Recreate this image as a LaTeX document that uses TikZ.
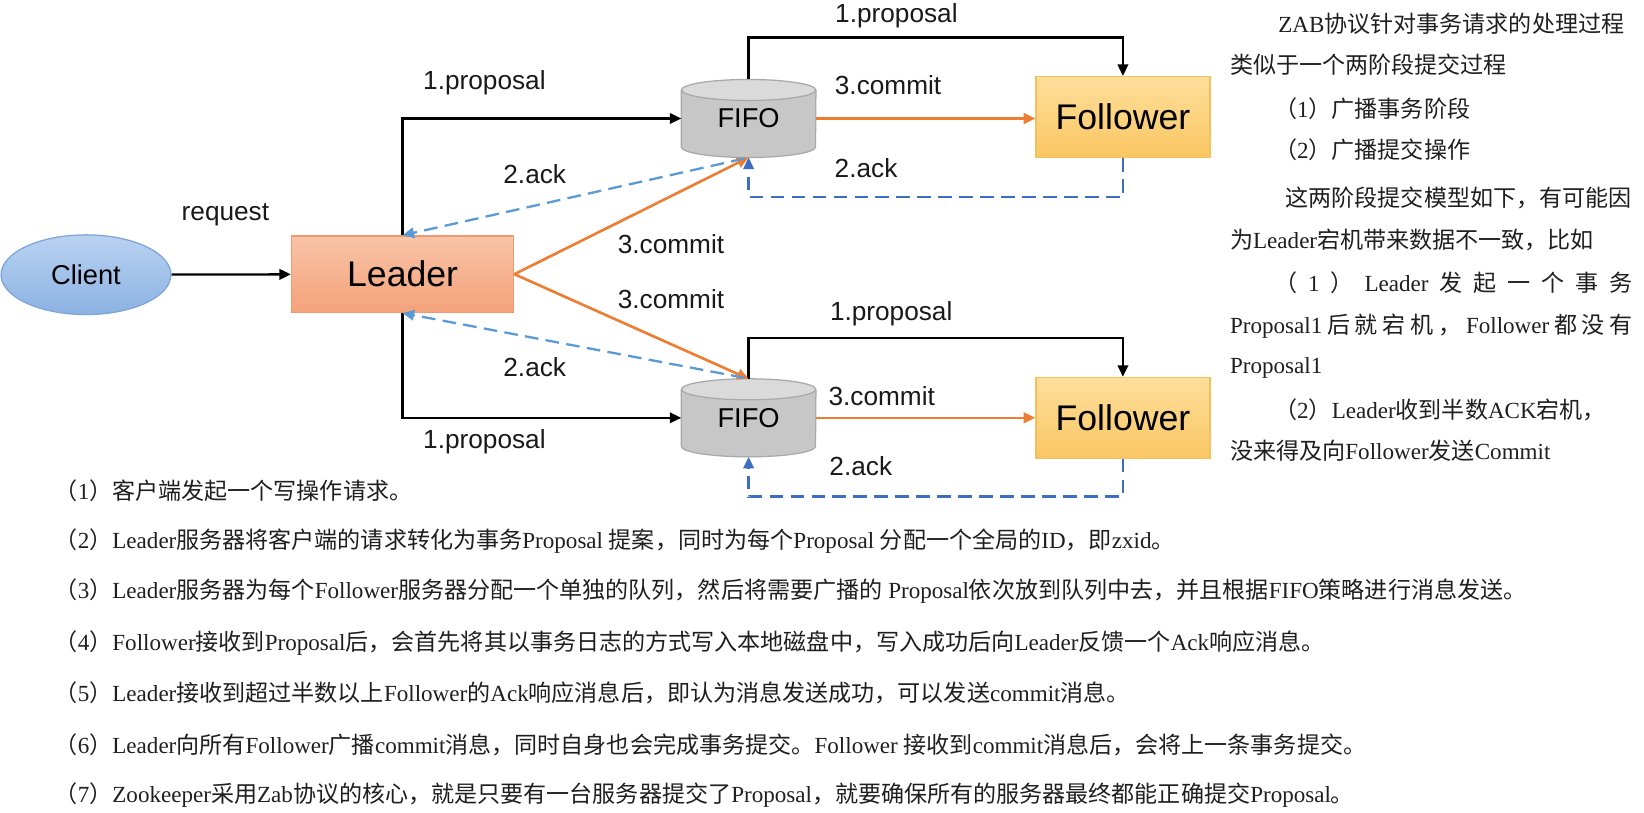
\documentclass[tikz,border=0pt]{standalone}
\usepackage{fontspec}
\setmainfont{Liberation Serif}
\newfontfamily\cjkf{Noto Sans CJK SC}
\newfontfamily\latf{Liberation Serif}
\newfontfamily\arialf{Liberation Sans}
\usetikzlibrary{arrows.meta,calc,shapes.geometric}
% automatic switching between Latin and CJK fonts
\ifdefined\newXeTeXintercharclass
  \newXeTeXintercharclass\CJKcls
\else
  \chardef\CJKcls=9
\fi
\newcount\mycnt
\mycnt="4E00 \loop\XeTeXcharclass\mycnt=\CJKcls\advance\mycnt by 1 \ifnum\mycnt<"A000 \repeat
\mycnt="3000 \loop\XeTeXcharclass\mycnt=\CJKcls\advance\mycnt by 1 \ifnum\mycnt<"3040 \repeat
\mycnt="FF00 \loop\XeTeXcharclass\mycnt=\CJKcls\advance\mycnt by 1 \ifnum\mycnt<"FFF0 \repeat
\XeTeXinterchartoks 0 \CJKcls = {\cjkf}
\XeTeXinterchartoks 4095 \CJKcls = {\cjkf}
\XeTeXinterchartoks \CJKcls 0 = {\latf}
\XeTeXinterchartoks \CJKcls 4095 = {\latf}
\XeTeXinterchartokenstate=1
\definecolor{cliTop}{HTML}{B9D2F1}
\definecolor{cliBot}{HTML}{8CB2E2}
\definecolor{cliBd}{HTML}{7DA5D8}
\definecolor{ldTop}{HTML}{F9C4A8}
\definecolor{ldBot}{HTML}{F4A279}
\definecolor{ldBd}{HTML}{EE9A70}
\definecolor{flTop}{HTML}{FEDF9C}
\definecolor{flBot}{HTML}{FAC662}
\definecolor{flBd}{HTML}{F3C15B}
\definecolor{fifoBody}{HTML}{C7C7C7}
\definecolor{fifoTop}{HTML}{DADADA}
\definecolor{fifoBd}{HTML}{A9A9A9}
\definecolor{orangeC}{HTML}{ED7D31}
\definecolor{lblue}{HTML}{5B9BD5}
\definecolor{dblue}{HTML}{3E6EC2}
\pgfdeclarelayer{bg}
\pgfsetlayers{bg,main}
\begin{document}
\begin{tikzpicture}[x=1pt,y=-1pt,
  tip/.style={-{Triangle[length=11pt,width=10pt]}},
  blk/.style={line width=2.2pt,draw=black,tip},
  org/.style={line width=2.5pt,draw=orangeC,tip},
  ackl/.style={line width=2.2pt,draw=lblue,dash pattern=on 13pt off 7pt,tip},
  ackd/.style={line width=2.2pt,draw=dblue,dash pattern=on 13pt off 7pt,tip},
  lab/.style={font=\arialf\fontsize{25}{28}\selectfont,inner sep=0pt,text=black!90},
  cn/.style={font=\latf\fontsize{22}{26}\selectfont,anchor=west,inner sep=0pt,text=black!88},
  clientst/.style={ellipse,minimum width=162pt,minimum height=76pt,inner sep=0pt,
    draw=cliBd,line width=1.2pt,top color=cliTop,bottom color=cliBot,
    font=\arialf\fontsize{26}{30}\selectfont},
  leaderst/.style={rectangle,minimum width=212pt,minimum height=73pt,inner sep=0pt,
    draw=ldBd,line width=1.2pt,top color=ldTop,bottom color=ldBot,
    font=\arialf\fontsize{34}{40}\selectfont},
  follst/.style={rectangle,minimum width=166pt,minimum height=77pt,inner sep=0pt,
    draw=flBd,line width=1.2pt,top color=flTop,bottom color=flBot,
    font=\arialf\fontsize{34}{40}\selectfont},
  fifost/.style={rectangle,minimum width=128pt,minimum height=74pt,inner sep=0pt,
    font=\arialf\fontsize{26}{30}\selectfont},
  cylbody/.style={fill=fifoBody},
  cylline/.style={draw=fifoBd,line width=1.2pt}
]
\useasboundingbox (0,0) rectangle (1568,774.5);

% nodes
\node[clientst] (client) at (82,262) {Client};
\node[leaderst] (leader) at (384,261.5) {Leader};
\node[fifost] (fifo1) at (714,113) {\raisebox{-3pt}{FIFO}};
\node[fifost] (fifo2) at (714,398.5) {\raisebox{-3pt}{FIFO}};
\node[follst] (foll1) at (1071,111.5) {Follower};
\node[follst] (foll2) at (1071,398.5) {Follower};

% white page and cylinders behind FIFO nodes
\begin{pgfonlayer}{bg}
\fill[white] (0,0) rectangle (1568,774.5);
\foreach \n in {fifo1,fifo2}{
  \fill[cylbody] ($(\n.north west)+(0,10)$) rectangle ($(\n.south east)+(0,-10)$);
  \fill[cylbody] ($(\n.south)+(0,-10)$) ellipse [x radius=64, y radius=10];
  \draw[cylline] ($(\n.north west)+(0,10)$) -- ($(\n.south west)+(0,-10)$)
     arc [start angle=180, end angle=0, x radius=64, y radius=10]
     -- ($(\n.north east)+(0,10)$);
  \filldraw[cylline,fill=fifoTop] ($(\n.north)+(0,10)$) ellipse [x radius=64, y radius=10];
}
\end{pgfonlayer}

% connectors
\draw[blk] (client) -- (leader);
\draw[blk] (leader.north) |- (fifo1.west);
\draw[blk] (leader.south) |- (fifo2.west);
\coordinate (p1) at ($(fifo1.north)+(0,-40)$);
\coordinate (p2) at ($(fifo2.north)+(0,-39)$);
\draw[blk] (fifo1.north) -- (p1) -| (foll1.north);
\draw[blk] (fifo2.north) -- (p2) -| (foll2.north);
\draw[org] (fifo1.east) -- (fifo1.east -| foll1.west);
\draw[org] (fifo2.east) -- (fifo2.east -| foll2.west);
\draw[org] (leader.east) -- (fifo1.south);
\draw[org] (leader.east) -- (fifo2.north);
\draw[ackl] ($(fifo1.south)+(-4,1)$) -- (leader.north);
\draw[ackl] ($(fifo2.north)+(-4,-1)$) -- (leader.south);
\coordinate (q1) at ($(foll1.south)+(0,37)$);
\coordinate (q2) at ($(foll2.south)+(0,36)$);
\draw[ackd] (foll1.south) -- (q1) -| (fifo1.south);
\draw[ackd] (foll2.south) -- (q2) -| (fifo2.south);

% labels
\node[lab] (lreq) at (215,205) {request};
\node[lab] (lp1) at (462,79) {1.proposal};
\node[lab] (lp2) at (462,421) {1.proposal};
\node[lab] (lp3) at (855,15) {1.proposal};
\node[lab] (lp4) at (850,299) {1.proposal};
\node[lab] (lc1) at (847,81) {3.commit};
\node[lab] (lc2) at (841,378) {3.commit};
\node[lab] (lc3) at (640,233) {3.commit};
\node[lab] (lc4) at (640,285) {3.commit};
\node[lab] (la1) at (510,166) {2.ack};
\node[lab] (la2) at (510,350) {2.ack};
\node[lab] (la3) at (826,160) {2.ack};
\node[lab] (la4) at (821,445) {2.ack};

% right text
\node[cn] (r1) at (1219,23) {ZAB协议针对事务请求的处理过程};
\node[cn] (r2) at (1173,62) {类似于一个两阶段提交过程};
\node[cn] (r3) at (1215,104) {（1）广播事务阶段};
\node[cn] (r4) at (1215,143) {（2）广播提交操作};
\node[cn] (r5) at (1226,189) {这两阶段提交模型如下，有可能因};
\node[cn] (r6) at (1173,229) {为Leader宕机带来数据不一致，比如};
\node[cn] (r7) at (1215,270) {\makebox[342pt][s]{（ 1 ） Leader 发 起 一 个 事 务}};
\node[cn] (r8) at (1173,311) {\makebox[384pt][s]{Proposal1 后 就 宕 机 ， Follower 都 没 有}};
\node[cn] (r9) at (1173,351) {Proposal1};
\node[cn] (r10) at (1215,391) {（2）Leader收到半数ACK宕机，};
\node[cn] (r11) at (1173,430) {没来得及向Follower发送Commit};

% bottom text
\node[cn] (t1) at (52,468) {（1）客户端发起一个写操作请求。};
\node[cn] (t2) at (52,516) {（2）Leader服务器将客户端的请求转化为事务Proposal 提案，同时为每个Proposal 分配一个全局的ID，即zxid。};
\node[cn] (t3) at (52,564) {（3）Leader服务器为每个Follower服务器分配一个单独的队列，然后将需要广播的 Proposal依次放到队列中去，并且根据FIFO策略进行消息发送。};
\node[cn] (t4) at (52,613) {（4）Follower接收到Proposal后，会首先将其以事务日志的方式写入本地磁盘中，写入成功后向Leader反馈一个Ack响应消息。};
\node[cn] (t5) at (52,661) {（5）Leader接收到超过半数以上Follower的Ack响应消息后，即认为消息发送成功，可以发送commit消息。};
\node[cn] (t6) at (52,710) {（6）Leader向所有Follower广播commit消息，同时自身也会完成事务提交。Follower 接收到commit消息后，会将上一条事务提交。};
\node[cn] (t7) at (52,758) {（7）Zookeeper采用Zab协议的核心，就是只要有一台服务器提交了Proposal，就要确保所有的服务器最终都能正确提交Proposal。};
\end{tikzpicture}
\end{document}
